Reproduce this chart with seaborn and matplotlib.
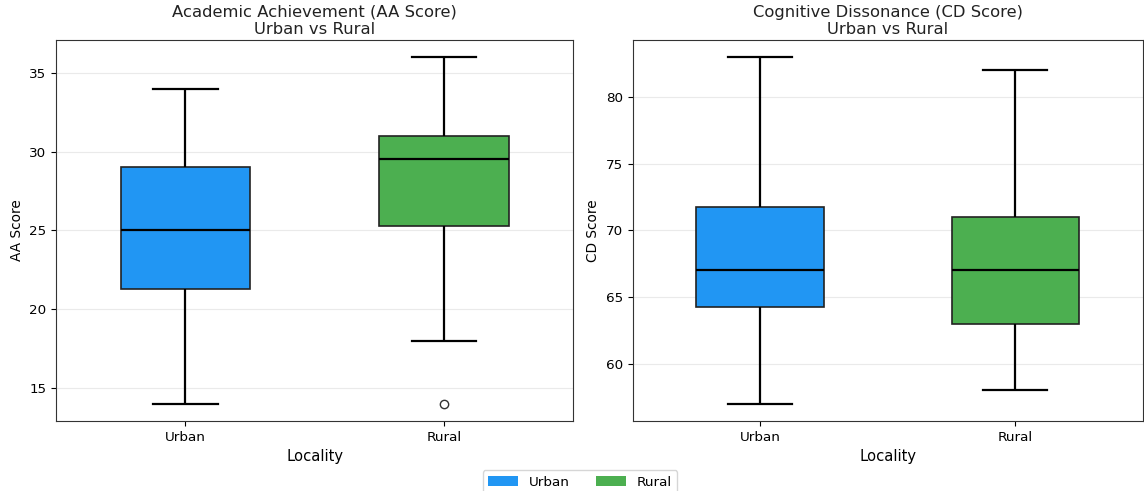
import numpy as np
import pandas as pd
import matplotlib
matplotlib.use("Agg")
import matplotlib.pyplot as plt
from matplotlib.patches import Patch
import seaborn as sns

# Scores per locality (small samples)
localities = ["Urban", "Rural"]
aa_urban = [14, 19, 21.25, 23, 25, 27, 29, 31, 34]
aa_rural = [14, 18, 25.25, 27, 29.5, 30, 31, 33, 36]
cd_urban = [57, 62, 64.25, 66, 67, 69, 71.75, 76, 83]
cd_rural = [58, 61, 63, 65, 67, 69, 71, 75, 82]

colors = {"Urban": "#2196F3", "Rural": "#4CAF50"}

aa_df = pd.DataFrame({
    "Locality": ["Urban"] * len(aa_urban) + ["Rural"] * len(aa_rural),
    "AA Score": aa_urban + aa_rural,
})
cd_df = pd.DataFrame({
    "Locality": ["Urban"] * len(cd_urban) + ["Rural"] * len(cd_rural),
    "CD Score": cd_urban + cd_rural,
})

plt.rcParams["font.family"] = ["DejaVu Sans"]

fig = plt.figure(figsize=(11.44, 4.91), dpi=100)
ax1 = fig.add_axes([0.049, 0.1426, 0.452, 0.7766])
ax2 = fig.add_axes([0.553, 0.1426, 0.446, 0.7766])

box_kw = dict(
    width=0.5,
    saturation=1,
    linewidth=1.5,
    linecolor="black",
    whis=1.5,
    boxprops=dict(edgecolor="#222222", linewidth=1.2),
    whiskerprops=dict(color="black", linewidth=1.6),
    capprops=dict(color="black", linewidth=1.6),
    medianprops=dict(color="black", linewidth=1.6),
    flierprops=dict(marker="o", markerfacecolor="none",
                    markeredgecolor="#333333", markersize=6),
)

panels = [
    (ax1, aa_df, "AA Score", "Academic Achievement (AA Score)\nUrban vs Rural"),
    (ax2, cd_df, "CD Score", "Cognitive Dissonance (CD Score)\nUrban vs Rural"),
]
for ax, df, col, title in panels:
    sns.boxplot(data=df, x="Locality", y=col, hue="Locality", order=localities,
                hue_order=localities, palette=colors, legend=False, ax=ax, **box_kw)
    ax.set_title(title, fontsize=11.8, color="#222222", pad=4)
    ax.set_xlabel("Locality", fontsize=10.6)
    ax.set_ylabel(col, fontsize=9.8)
    ax.tick_params(labelsize=9.7)
    ax.grid(axis="y", color="#dddddd", alpha=0.6, linewidth=0.8)
    ax.set_axisbelow(True)
    for s in ax.spines.values():
        s.set_color("#333333")

handles = [Patch(facecolor=colors[k], edgecolor="none", label=k) for k in localities]
fig.legend(handles=handles, loc="lower center", ncol=2, bbox_to_anchor=(0.507, -0.02),
           fontsize=9.7, frameon=True, handlelength=2.2, columnspacing=2.0)

fig.savefig("out.png", dpi=100)
